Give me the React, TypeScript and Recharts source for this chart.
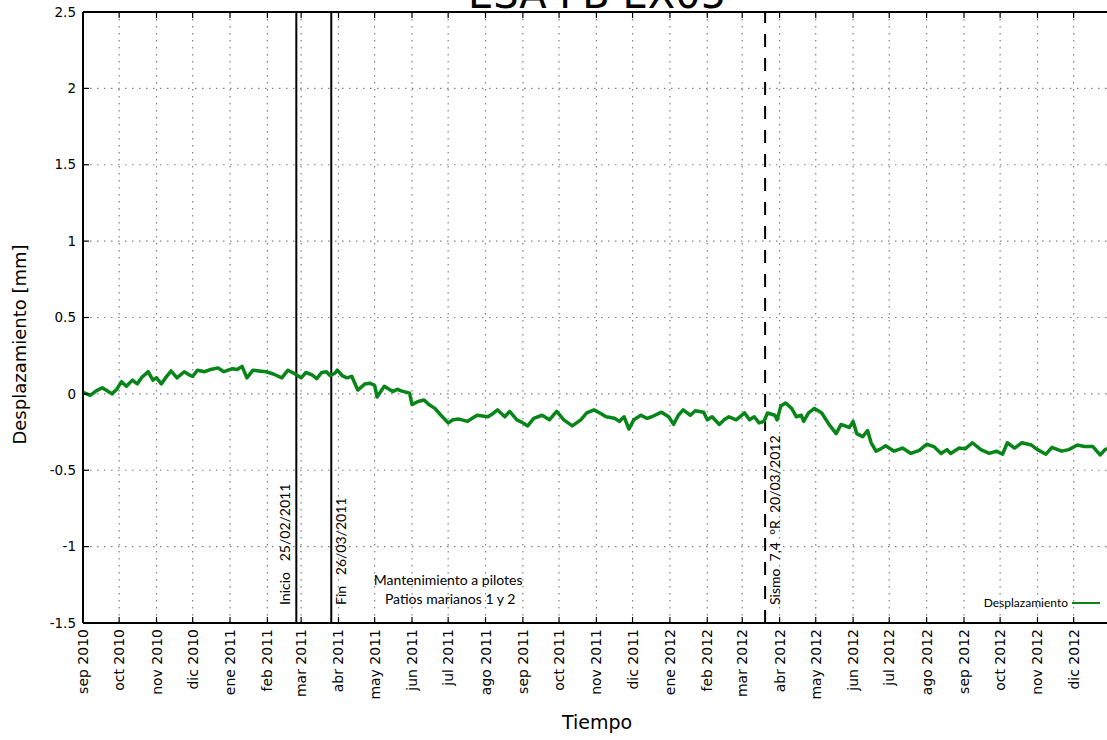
import { LineChart, Line, XAxis, YAxis, CartesianGrid, ReferenceLine } from 'recharts';

// Desplazamiento acumulado (mm), lecturas aproximadas de la gráfica
const dates = [
    '2010-09-01', '2010-09-07', '2010-09-12', '2010-09-17', '2010-09-21', '2010-09-25', '2010-09-29',
    '2010-10-03', '2010-10-07', '2010-10-12', '2010-10-16', '2010-10-20', '2010-10-25', '2010-10-29',
    '2010-11-01', '2010-11-05', '2010-11-09', '2010-11-13', '2010-11-18', '2010-11-24', '2010-11-28',
    '2010-12-01', '2010-12-05', '2010-12-11', '2010-12-16', '2010-12-22', '2010-12-27',
    '2011-01-03', '2011-01-07', '2011-01-11', '2011-01-15', '2011-01-20', '2011-01-25', '2011-01-31',
    '2011-02-06', '2011-02-13', '2011-02-18', '2011-02-23',
    '2011-03-01', '2011-03-05', '2011-03-10', '2011-03-14', '2011-03-18', '2011-03-22', '2011-03-25', '2011-03-29', '2011-03-31',
    '2011-04-04', '2011-04-08', '2011-04-12', '2011-04-17', '2011-04-23', '2011-04-27',
    '2011-05-01', '2011-05-03', '2011-05-09', '2011-05-16', '2011-05-20', '2011-05-23', '2011-05-30',
    '2011-06-01', '2011-06-06', '2011-06-11', '2011-06-15', '2011-06-20', '2011-06-25',
    '2011-07-01', '2011-07-05', '2011-07-10', '2011-07-17', '2011-07-21', '2011-07-25',
    '2011-08-03', '2011-08-07', '2011-08-11', '2011-08-17', '2011-08-21', '2011-08-27', '2011-08-31',
    '2011-09-05', '2011-09-10', '2011-09-17', '2011-09-23', '2011-09-29',
    '2011-10-05', '2011-10-12', '2011-10-19', '2011-10-24', '2011-10-30',
    '2011-11-05', '2011-11-09', '2011-11-16', '2011-11-20', '2011-11-24', '2011-11-28',
    '2011-12-02', '2011-12-08', '2011-12-13', '2011-12-17', '2011-12-25', '2011-12-31',
    '2012-01-04', '2012-01-08', '2012-01-12', '2012-01-18', '2012-01-22', '2012-01-29',
    '2012-02-01', '2012-02-05', '2012-02-11', '2012-02-15', '2012-02-19', '2012-02-25',
    '2012-03-03', '2012-03-07', '2012-03-11', '2012-03-15', '2012-03-19', '2012-03-22', '2012-03-28', '2012-03-30',
    '2012-04-02', '2012-04-06', '2012-04-11', '2012-04-15', '2012-04-19', '2012-04-21', '2012-04-25', '2012-04-30',
    '2012-05-06', '2012-05-12', '2012-05-18', '2012-05-22', '2012-05-29',
    '2012-06-01', '2012-06-04', '2012-06-09', '2012-06-13', '2012-06-16', '2012-06-20', '2012-06-24', '2012-06-28',
    '2012-07-05', '2012-07-12', '2012-07-19', '2012-07-26',
    '2012-08-01', '2012-08-07', '2012-08-13', '2012-08-18', '2012-08-21', '2012-08-28',
    '2012-09-02', '2012-09-08', '2012-09-15', '2012-09-22', '2012-09-28',
    '2012-10-03', '2012-10-07', '2012-10-13', '2012-10-19', '2012-10-27',
    '2012-11-01', '2012-11-08', '2012-11-13', '2012-11-21', '2012-11-27',
    '2012-12-04', '2012-12-10', '2012-12-17', '2012-12-23', '2012-12-27',
    '2013-01-01'
];

const displacement = [
    0.01, -0.01, 0.02, 0.04, 0.02, 0.0, 0.03,
    0.08, 0.05, 0.09, 0.065, 0.11, 0.145, 0.09,
    0.105, 0.065, 0.11, 0.15, 0.105, 0.145, 0.125,
    0.115, 0.155, 0.145, 0.16, 0.17, 0.145,
    0.165, 0.16, 0.18, 0.105, 0.155, 0.15, 0.145,
    0.13, 0.105, 0.155, 0.135,
    0.105, 0.14, 0.125, 0.1, 0.14, 0.145, 0.12, 0.135, 0.155,
    0.12, 0.105, 0.115, 0.025, 0.065, 0.07,
    0.055, -0.02, 0.05, 0.015, 0.03, 0.02, 0.005,
    -0.07, -0.05, -0.04, -0.07, -0.095, -0.14,
    -0.19, -0.17, -0.165, -0.18, -0.16, -0.14,
    -0.15, -0.13, -0.105, -0.15, -0.115, -0.17, -0.185,
    -0.21, -0.16, -0.14, -0.17, -0.115,
    -0.17, -0.21, -0.17, -0.125, -0.105,
    -0.13, -0.15, -0.16, -0.18, -0.15, -0.23,
    -0.17, -0.14, -0.16, -0.15, -0.12, -0.15,
    -0.2, -0.14, -0.105, -0.14, -0.11, -0.12,
    -0.17, -0.15, -0.2, -0.17, -0.15, -0.17,
    -0.125, -0.17, -0.15, -0.19, -0.18, -0.125, -0.14, -0.17,
    -0.08, -0.06, -0.095, -0.15, -0.14, -0.18, -0.125, -0.095,
    -0.125, -0.2, -0.26, -0.2, -0.22,
    -0.18, -0.26, -0.28, -0.24, -0.32, -0.375, -0.36, -0.34,
    -0.375, -0.355, -0.39, -0.37,
    -0.33, -0.345, -0.39, -0.365, -0.39, -0.355,
    -0.36, -0.32, -0.365, -0.39, -0.375,
    -0.395, -0.32, -0.355, -0.32, -0.335,
    -0.365, -0.395, -0.35, -0.375, -0.365,
    -0.335, -0.345, -0.345, -0.4, -0.365,
    -0.35
];

const monthTicks = [
    '2010-09-01', '2010-10-01', '2010-11-01', '2010-12-01',
    '2011-01-01', '2011-02-01', '2011-03-01', '2011-04-01', '2011-05-01', '2011-06-01',
    '2011-07-01', '2011-08-01', '2011-09-01', '2011-10-01', '2011-11-01', '2011-12-01',
    '2012-01-01', '2012-02-01', '2012-03-01', '2012-04-01', '2012-05-01', '2012-06-01',
    '2012-07-01', '2012-08-01', '2012-09-01', '2012-10-01', '2012-11-01', '2012-12-01'
];

const monthLabels = [
    'sep 2010', 'oct 2010', 'nov 2010', 'dic 2010',
    'ene 2011', 'feb 2011', 'mar 2011', 'abr 2011', 'may 2011', 'jun 2011',
    'jul 2011', 'ago 2011', 'sep 2011', 'oct 2011', 'nov 2011', 'dic 2011',
    'ene 2012', 'feb 2012', 'mar 2012', 'abr 2012', 'may 2012', 'jun 2012',
    'jul 2012', 'ago 2012', 'sep 2012', 'oct 2012', 'nov 2012', 'dic 2012'
];

const yTicks = [-1.5, -1, -0.5, 0, 0.5, 1, 1.5, 2, 2.5];

const events = [
    { date: '2011-02-25', text: 'Inicio   25/02/2011', side: -1, dashed: false },
    { date: '2011-03-26', text: 'Fin   26/03/2011', side: 1, dashed: false },
    { date: '2012-03-20', text: 'Sismo  7,4  °R  20/03/2012', side: 1, dashed: true }
];

const toTime = (d: string) => Date.parse(d + 'T00:00:00Z');

const chartData = dates.map((d, i) => ({ t: toTime(d), v: displacement[i] }));

const PLOT_TOP = 12;
const GREEN = '#078519';
const AXIS_FONT = '"DejaVu Sans", sans-serif';
const NOTE_FONT = 'Lato, "Open Sans", sans-serif';

function MonthTick(props: any) {
    const { x, y, index } = props;
    return (
        <g>
            <line x1={x} x2={x} y1={y} y2={y - 6} stroke="#000" strokeWidth={1.2} />
            <line x1={x} x2={x} y1={PLOT_TOP} y2={PLOT_TOP + 6} stroke="#000" strokeWidth={1.2} />
            <text
                x={x + 5}
                y={y + 6}
                transform={`rotate(-90 ${x + 5} ${y + 6})`}
                textAnchor="end"
                fontSize={14}
                fontFamily={AXIS_FONT}
                fill="#000"
            >
                {monthLabels[index]}
            </text>
        </g>
    );
}

function ValueTick(props: any) {
    const { x, y, payload } = props;
    return (
        <g>
            <line x1={x} x2={x + 6} y1={y} y2={y} stroke="#000" strokeWidth={1.2} />
            <text x={x - 7} y={y} dy="0.35em" textAnchor="end" fontSize={13.5} fontFamily={AXIS_FONT} fill="#000">
                {String(payload.value)}
            </text>
        </g>
    );
}

function eventLabel(text: string, side: number) {
    return (props: any) => {
        const vb = props.viewBox;
        const bx = vb.x + (side < 0 ? -6 : 15);
        const by = vb.y + vb.height - 18;
        return (
            <text
                x={bx}
                y={by}
                transform={`rotate(-90 ${bx} ${by})`}
                textAnchor="start"
                fontSize={14}
                fontFamily={NOTE_FONT}
                fill="#000"
                style={{ whiteSpace: 'pre' }}
            >
                {text}
            </text>
        );
    };
}

function maintenanceLabel(props: any) {
    const vb = props.viewBox;
    const cx = vb.x;
    const bottom = vb.y + vb.height;
    return (
        <g fontFamily={NOTE_FONT} fontSize={14} fill="#000" textAnchor="middle">
            <text x={cx} y={bottom - 38}>Mantenimiento a pilotes</text>
            <text x={cx + 2} y={bottom - 19}>Patios marianos 1 y 2</text>
        </g>
    );
}

function yAxisLabel(props: any) {
    const vb = props.viewBox;
    const lx = vb.x + 26;
    const ly = vb.y + vb.height / 2 + 27;
    return (
        <text
            x={lx}
            y={ly}
            transform={`rotate(-90 ${lx} ${ly})`}
            textAnchor="middle"
            fontSize={18}
            fontFamily={AXIS_FONT}
            fill="#000"
        >
            Desplazamiento [mm]
        </text>
    );
}

export default function App() {
    return (
        <div style={{ position: 'absolute', top: 0, left: 0, width: 1107, height: 740, overflow: 'hidden', background: '#fff' }}>
            <LineChart width={1130} height={740} data={chartData} margin={{ top: PLOT_TOP, right: 19, bottom: 0, left: 0 }}>
                <CartesianGrid stroke="#808080" strokeDasharray="1.5 5.5" strokeWidth={1.2} />
                <XAxis
                    dataKey="t"
                    type="number"
                    domain={[toTime('2010-09-01'), toTime('2013-01-01')]}
                    ticks={monthTicks.map(toTime)}
                    interval={0}
                    tick={<MonthTick />}
                    tickLine={false}
                    tickSize={0}
                    tickMargin={0}
                    height={117}
                    axisLine={{ stroke: '#000', strokeWidth: 2 }}
                    label={{ value: 'Tiempo', position: 'insideBottom', offset: 11, fontSize: 19, fill: '#000', fontFamily: AXIS_FONT }}
                />
                <YAxis
                    type="number"
                    domain={[-1.5, 2.5]}
                    ticks={yTicks}
                    interval={0}
                    tick={<ValueTick />}
                    tickLine={false}
                    tickSize={0}
                    tickMargin={0}
                    width={83}
                    axisLine={{ stroke: '#000', strokeWidth: 2 }}
                    label={{ content: yAxisLabel }}
                />
                <ReferenceLine y={2.5} stroke="#000" strokeWidth={2} />
                <ReferenceLine x={toTime('2013-01-01')} stroke="#000" strokeWidth={2} />
                {events.map(ev => (
                    <ReferenceLine
                        key={ev.date}
                        x={toTime(ev.date)}
                        stroke="#000"
                        strokeWidth={2}
                        strokeDasharray={ev.dashed ? '13 11' : undefined}
                        label={{ content: eventLabel(ev.text, ev.side) }}
                    />
                ))}
                <ReferenceLine x={toTime('2011-07-01')} stroke="none" label={{ content: maintenanceLabel }} />
                <Line
                    type="linear"
                    dataKey="v"
                    stroke={GREEN}
                    strokeWidth={3.5}
                    strokeLinejoin="round"
                    dot={false}
                    isAnimationActive={false}
                />
            </LineChart>
            <svg width={1107} height={740} style={{ position: 'absolute', top: 0, left: 0, pointerEvents: 'none' }}>
                <text x={597} y={8} textAnchor="middle" fontSize={40} fontFamily={AXIS_FONT} fill="#000">
                    ESA FB EX05
                </text>
                <text x={1068} y={607} textAnchor="end" fontSize={12} fontFamily={NOTE_FONT} fill="#000">
                    Desplazamiento
                </text>
                <line x1={1072} x2={1100} y1={603} y2={603} stroke={GREEN} strokeWidth={2} />
            </svg>
        </div>
    );
}
